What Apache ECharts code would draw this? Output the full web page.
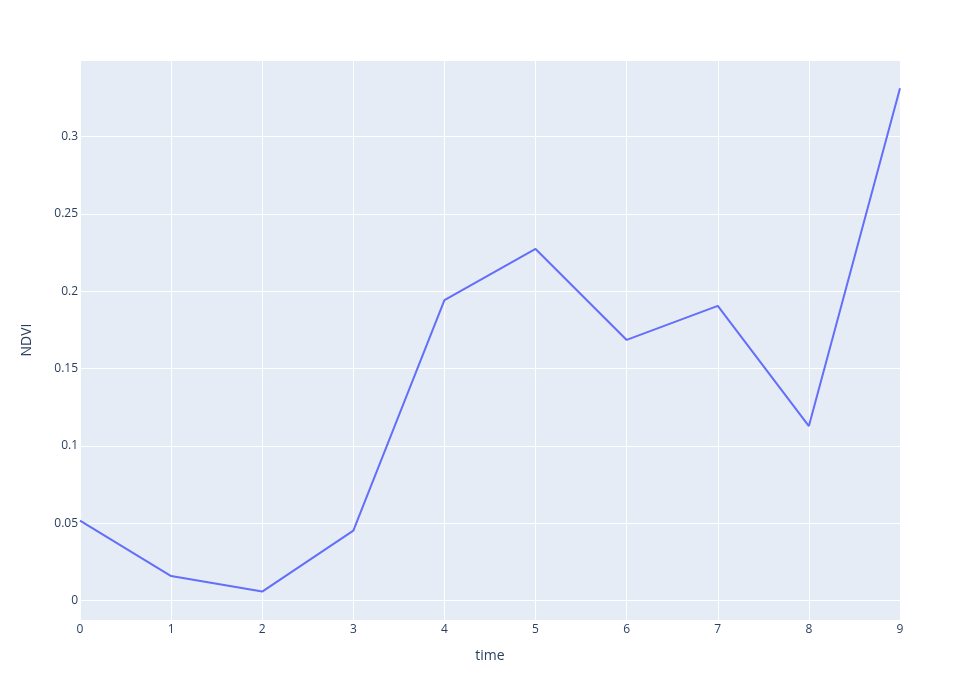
<!DOCTYPE html>
<html>
<head>
<meta charset="utf-8">
<script src="https://cdn.jsdelivr.net/npm/echarts@6/dist/echarts.min.js"></script>
<style>
  html, body { margin: 0; padding: 0; background: #fff; }
  #chart { width: 980px; height: 700px; }
</style>
</head>
<body>
<div id="chart"></div>
<script>
// values
const time = [0, 1, 2, 3, 4, 5, 6, 7, 8, 9];
const ndvi = [0.0517, 0.0158, 0.0058, 0.0452, 0.1943, 0.2273, 0.1685, 0.1905, 0.1128, 0.3312];

const font = '"Open Sans", verdana, arial, sans-serif';
const textColor = '#2a3f5f';

const chart = echarts.init(document.getElementById('chart'));

chart.setOption({
    animation: false,
    grid: {
        left: 80, right: 80, top: 60, bottom: 80,
        show: true,
        backgroundColor: '#E5ECF6',
        borderWidth: 0
    },
    xAxis: {
        type: 'value',
        min: 0,
        max: 9,
        interval: 1,
        name: 'time',
        nameLocation: 'middle',
        nameGap: 29,
        nameTextStyle: { fontFamily: font, fontSize: 14, color: textColor },
        axisLine: { show: false },
        axisTick: { show: false },
        axisLabel: { margin: 4, fontFamily: font, fontSize: 12, color: textColor },
        splitLine: { lineStyle: { color: '#fff', width: 1 } }
    },
    yAxis: {
        type: 'value',
        min: -0.0126,
        max: 0.3495,
        splitNumber: 7,
        minInterval: 0.05,
        maxInterval: 0.05,
        name: 'NDVI',
        nameLocation: 'middle',
        nameGap: 46,
        nameRotate: 90,
        nameTextStyle: { fontFamily: font, fontSize: 14, color: textColor },
        axisLine: { show: false },
        axisTick: { show: false },
        axisLabel: {
            margin: 2,
            fontFamily: font,
            fontSize: 12,
            color: textColor,
            showMinLabel: false,
            showMaxLabel: false
        },
        splitLine: { lineStyle: { color: '#fff', width: 1 } }
    },
    series: [{
        type: 'line',
        data: time.map((t, i) => [t, ndvi[i]]),
        showSymbol: false,
        lineStyle: { color: '#636efa', width: 2 },
        itemStyle: { color: '#636efa' }
    }]
});
</script>
</body>
</html>
